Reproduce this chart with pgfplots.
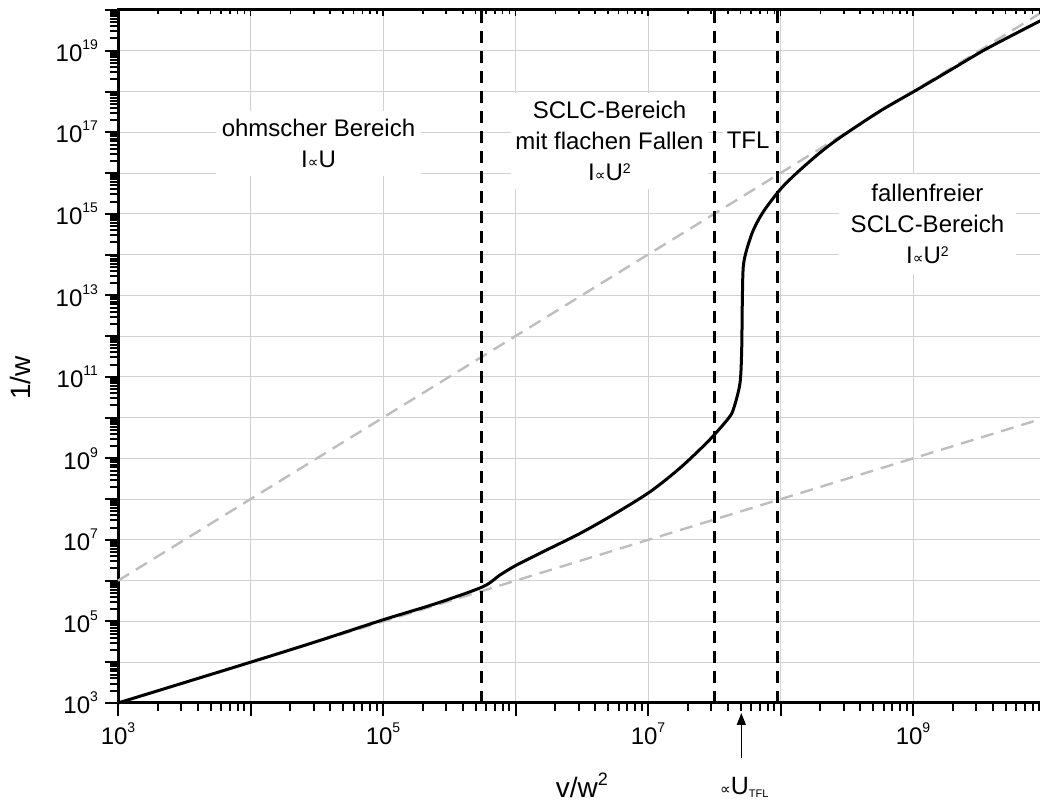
\documentclass[border=0pt]{standalone}
\usepackage{fontspec}
\setmainfont{Liberation Sans}
\newfontfamily\djv{DejaVu Sans}
\usepackage{pgfplots}
\pgfplotsset{compat=1.18}
\usetikzlibrary{arrows.meta}

\definecolor{refgray}{RGB}{190,190,190}
\definecolor{gridgray}{RGB}{210,210,210}
\newcommand{\prop}{{\djv\fontsize{7.5}{8}\selectfont ∝}}
\newcommand{\sups}[1]{\raisebox{6pt}{\fontsize{7}{8}\selectfont #1}}
\newcommand{\usq}{\raisebox{3.4pt}{\fontsize{7}{8}\selectfont 2}}

\begin{document}
\begin{tikzpicture}
\begin{axis}[
    name=ax,
    width=463.75pt, height=346.5pt, scale only axis,
    xmode=log, ymode=log,
    xmin=1e3, xmax=1e10, ymin=1e3, ymax=1e20,
    xtick={1e3,1e4,1e5,1e6,1e7,1e8,1e9,1e10},
    xticklabels={10\sups{3},,10\sups{5},,10\sups{7},,10\sups{9},},
    ytick={1e3,1e4,1e5,1e6,1e7,1e8,1e9,1e10,1e11,1e12,1e13,1e14,1e15,1e16,1e17,1e18,1e19,1e20},
    yticklabels={10\sups{3},,10\sups{5},,10\sups{7},,10\sups{9},,10\sups{11},,10\sups{13},,10\sups{15},,10\sups{17},,10\sups{19},},
    grid=major,
    major grid style={gridgray, line width=0.5pt},
    axis line style={line width=1.5pt},
    tick style={black, line width=1pt},
    tick align=outside, xtick pos=left, ytick pos=left,
    major tick length=6.5pt, minor tick length=4pt,
    ticklabel style={font=\fontsize{12}{14}\selectfont},
    xlabel={v/w\raisebox{6pt}{\fontsize{9}{10}\selectfont 2}},
    ylabel={1/w},
    label style={font=\fontsize{14}{16}\selectfont},
    xlabel style={at={(axis description cs:0.5,-0.119)}, anchor=center},
    ylabel style={at={(axis description cs:-0.1046,0.469)}, anchor=center},
    clip=false,
]

% Bereichsbeschriftungen (weiss hinterlegt, verdecken das Gitter)
\node[fill=white, align=center, inner xsep=3pt, inner ysep=4pt,
      font=\fontsize{12}{15.5}\selectfont] at (axis cs:3.26e4,5.4e16)
      {ohmscher Bereich\\I\prop U};
\node[fill=white, align=center, inner xsep=2pt, inner ysep=4pt,
      font=\fontsize{12}{15.5}\selectfont] at (axis cs:5.12e6,6.2e16)
      {SCLC-Bereich\\mit flachen Fallen\\I\prop U\usq};
\node[fill=white, align=center, inner xsep=2pt, inner ysep=3pt,
      font=\fontsize{12}{15.5}\selectfont] at (axis cs:5.7e7,6.4e16) {TFL};
\node[fill=white, align=center, inner xsep=6pt, inner ysep=5pt,
      font=\fontsize{12}{15.5}\selectfont] at (axis cs:1.285e9,5.6e14)
      {fallenfreier\\SCLC-Bereich\\I\prop U\usq};

% Asymptoten
\addplot[refgray, line width=1.2pt, dash pattern=on 6.5pt off 4pt]
    coordinates {(1e3,1e3) (1e10,1e10)};
\addplot[refgray, line width=1.2pt, dash pattern=on 6.5pt off 4pt]
    coordinates {(1e3,1e6) (1e10,1e20)};

% Bereichsgrenzen
\addplot[black, line width=1.5pt, dash pattern=on 6pt off 4pt]
    coordinates {(5.5e5,1e3) (5.5e5,1e20)};
\addplot[black, line width=1.5pt, dash pattern=on 6pt off 4pt]
    coordinates {(3.15e7,1e3) (3.15e7,1e20)};
\addplot[black, line width=1.5pt, dash pattern=on 6pt off 4pt]
    coordinates {(9.5e7,1e3) (9.5e7,1e20)};

% Kennlinie
\addplot[black, line width=1.5pt, smooth] coordinates {
    (1000,1000) (1e4,1e4) (3.162e4,3.236e4) (1e5,1.096e5)
    (2.512e5,2.754e5) (5.649e5,7.079e5) (7.638e5,1.380e6)
    (1.021e6,2.432e6) (1.718e6,5.675e6) (3.069e6,1.445e7)
    (5.470e6,4.169e7) (1.035e7,1.514e8) (1.738e7,5.754e8)
    (2.612e7,1.995e9) (3.206e7,3.981e9) (4.036e7,9.550e9)
    (4.406e7,1.585e10) (4.943e7,6.918e10) (5.093e7,4.571e11)
    (5.152e7,7.762e12) (5.236e7,5.012e13) (5.546e7,1.288e14)
    (6.237e7,3.981e14) (7.413e7,1.122e15) (9.908e7,3.890e15)
    (1.324e8,1e16) (1.986e8,3.162e16) (2.812e8,7.413e16)
    (5.636e8,3.311e17) (1.067e9,1.096e18) (1.995e9,3.631e18)
    (3.597e9,1.122e19) (9.078e9,5.370e19) (1e10,6.3e19)
};

% Pfeil U_TFL
\draw[black, line width=0.8pt, -{Triangle[length=6pt,width=4.5pt]}]
    (axis cs:5.06e7,44.7) -- (axis cs:5.06e7,569);
\node[anchor=base, inner sep=0pt, font=\fontsize{12.5}{14}\selectfont]
    at ([yshift=-46pt,xshift=1.5pt]axis cs:5.06e7,1e3)
    {\prop U\raisebox{-1.5pt}{\fontsize{5.5}{6}\selectfont TFL}};
\end{axis}

% kleine Innenticks oben
\begin{axis}[
    width=463.75pt, height=346.5pt, scale only axis,
    xmode=log, ymode=log,
    xmin=1e3, xmax=1e10, ymin=1e3, ymax=1e20,
    axis x line*=top, hide y axis,
    xtick={1e3,1e4,1e5,1e6,1e7,1e8,1e9,1e10}, xticklabels={},
    tick align=inside, major tick length=3pt, minor tick length=2pt,
    tick style={black, line width=0.8pt},
    axis line style={line width=1.5pt},
]
\end{axis}

\pgfresetboundingbox
\path[use as bounding box] ([xshift=-59pt,yshift=-50pt]ax.south west)
    rectangle ([xshift=-2.75pt,yshift=5pt]ax.north east);
\end{tikzpicture}
\end{document}
